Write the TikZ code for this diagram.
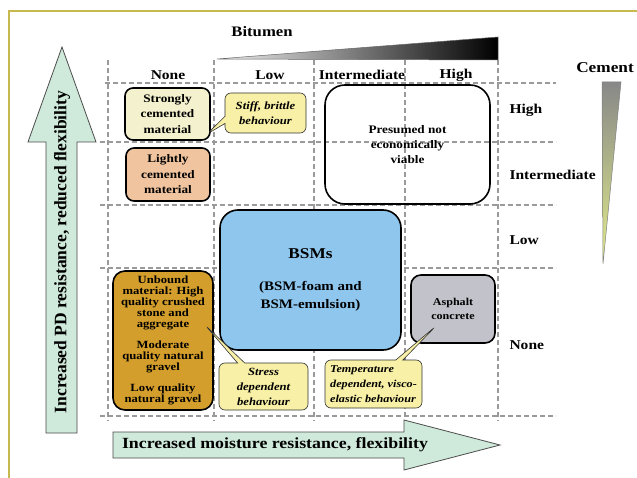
\documentclass[tikz,border=0pt]{standalone}
\usepackage{fontspec}
\setmainfont[FakeStretch=1.15]{Liberation Serif}
\newfontfamily\rotfont{Liberation Serif}
\usetikzlibrary{shapes.callouts}
\definecolor{frameol}{HTML}{C8B850}
\definecolor{gridc}{HTML}{9A9A9A}
\definecolor{strongc}{HTML}{F4F2CE}
\definecolor{lightc}{HTML}{F0C49E}
\definecolor{notey}{HTML}{F8F0A6}
\definecolor{unboundc}{HTML}{D49E2C}
\definecolor{bsmc}{HTML}{8EC6EE}
\definecolor{asphc}{HTML}{C2C2CA}
\definecolor{arrowg}{HTML}{CFE9DA}
\definecolor{cemtop}{HTML}{888888}
\definecolor{cemmid}{HTML}{B2B79A}
\definecolor{cembot}{HTML}{E2EC8A}
\begin{document}
\begin{tikzpicture}[x=1pt,y=-1pt,font=\bfseries,
  gridline/.style={draw=gridc,line width=1.1pt,dash pattern=on 5pt off 3pt},
  matbox/.style={draw=black,line width=1.6pt,rounded corners=8pt,inner sep=0pt,align=center,
    font=\bfseries\fontsize{11.5}{15.5}\selectfont},
  note/.style={rectangle callout,draw=black!80,line width=0.6pt,fill=notey,rounded corners=6pt,
    inner sep=0pt,align=center,font=\bfseries\itshape\fontsize{11}{15}\selectfont},
  hdr/.style={font=\bfseries\fontsize{13.5}{16}\selectfont},
  bigarrow/.style={draw=black!70,line width=0.8pt,fill=arrowg}]
\useasboundingbox (0,0) rectangle (637,478);
\fill[white] (0,0) rectangle (637,478);
% frame
\draw[frameol,line width=1.5pt] (9,478) -- (9,11) -- (637,11);
% grid
\foreach \gx in {108,214,314,405,498} \draw[gridline] (\gx,60) -- (\gx,421);
\draw[gridline] (105,83) -- (556,83);
\foreach \gy in {142,205,268,416} \draw[gridline] (100,\gy) -- (556,\gy);
% wedges
\shadedraw[left color=gray!12,right color=black,draw=black!60,line width=0.5pt] (217,59) -- (498,37) -- (498,60) -- cycle;
\shadedraw[top color=cemtop,middle color=cemmid,bottom color=cembot,draw=black!50,line width=0.5pt] (602,82) -- (621,82) -- (603,264) -- cycle;
% big arrows
\draw[bigarrow] (46,433) -- (46,142) -- (28,142) -- (62,47) -- (96,142) -- (77,142) -- (77,433) -- cycle;
\node[rotate=90,font=\rotfont\bfseries\fontsize{17.5}{20}\selectfont] (vlab) at (62,252) {Increased PD resistance, reduced flexibility};
\draw[bigarrow] (113,432) -- (404,432) -- (404,420) -- (500,445) -- (404,470) -- (404,458) -- (113,458) -- cycle;
\node[font=\bfseries\fontsize{15.5}{18}\selectfont] (hlab) at (275,445) {Increased moisture resistance, flexibility};
% headers
\node[font=\bfseries\fontsize{14.5}{17}\selectfont] (bit) at (262,32) {Bitumen};
\node[font=\bfseries\fontsize{15}{18}\selectfont] (cem) at (605,68) {Cement};
\node[hdr] (cNone) at (168,75) {None};
\node[hdr] (cLow) at (270,75) {Low};
\node[hdr] (cInt) at (362,75) {Intermediate};
\node[hdr] (cHigh) at (456,75) {High};
\node[hdr,anchor=west] (rHigh) at (506,110) {High};
\node[hdr,anchor=west] (rInt) at (506,175) {Intermediate};
\node[hdr,anchor=west] (rLow) at (506,240) {Low};
\node[hdr,anchor=west] (rNone) at (506,345) {None};
% material boxes
\node[matbox,fill=strongc,minimum width=85pt,minimum height=52pt] (strong) at (167.5,114) {Strongly\\cemented\\material};
\node[matbox,fill=lightc,minimum width=84pt,minimum height=53pt] (light) at (168,174.5) {Lightly\\cemented\\material};
\node[matbox,rounded corners=20pt,minimum width=165pt,minimum height=119pt,font=\bfseries\fontsize{11.5}{15}\selectfont] (presumed) at (407.5,144.5) {Presumed not\\economically\\viable};
\node[matbox,fill=bsmc,rounded corners=18pt,minimum width=181pt,minimum height=140pt,font=\bfseries\fontsize{13}{18}\selectfont] (bsm) at (310.5,280) {{\fontsize{15}{18}\selectfont BSMs}\\[14pt](BSM-foam and\\BSM-emulsion)};
\node[matbox,fill=unboundc,rounded corners=12pt,minimum width=100pt,minimum height=139pt,font=\bfseries\fontsize{11}{11}\selectfont] (unbound) at (163,340.5) {Unbound\\material: High\\quality crushed\\stone and\\aggregate\\[10pt]Moderate\\quality natural\\gravel\\[10pt]Low quality\\natural gravel};
\node[matbox,fill=asphc,rounded corners=10pt,minimum width=84pt,minimum height=68pt,font=\bfseries\fontsize{10.5}{15}\selectfont] (asph) at (453,309) {\raisebox{-4pt}{\shortstack{Asphalt\\[3pt]concrete}}};
% callouts
\coordinate (tipStiff) at (207,134);
\coordinate (tipStress) at (205,325);
\coordinate (tipTemp) at (436,326);
\node[note,minimum width=81pt,minimum height=40pt,callout absolute pointer={(tipStiff)}] (stiff) at (265.5,113) {Stiff, brittle\\behaviour};
\node[note,minimum width=89pt,minimum height=47pt,callout absolute pointer={(tipStress)}] (stress) at (263.5,386.5) {Stress\\dependent\\behaviour};
\node[note,align=left,minimum width=97pt,minimum height=48pt,font=\bfseries\itshape\fontsize{10.6}{15}\selectfont,callout absolute pointer={(tipTemp)}] (temp) at (373.5,384) {Temperature\\dependent, visco-\\elastic behaviour};
\end{tikzpicture}
\end{document}
